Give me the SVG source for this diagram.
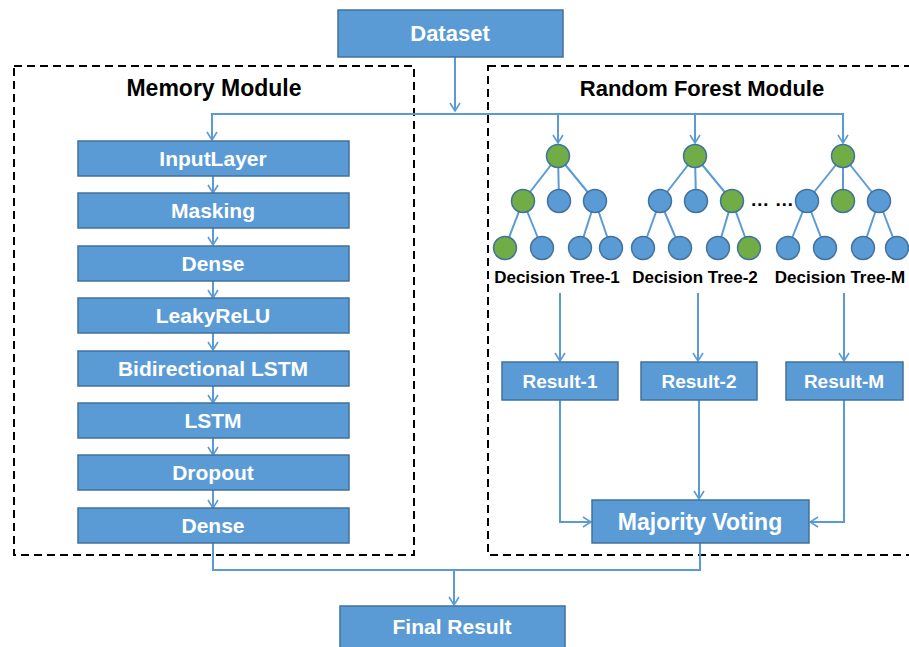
<svg xmlns="http://www.w3.org/2000/svg" width="909" height="647" viewBox="0 0 909 647">
<style>
.box{fill:#5B9BD5;stroke:#41719C;stroke-width:1.5}
.bt{fill:#fff;font-family:"Liberation Sans",Arial,sans-serif;font-weight:bold;text-anchor:middle}
.title{fill:#000;font-family:"Liberation Sans",Arial,sans-serif;font-weight:bold;text-anchor:middle}
.lbl{fill:#000;font-family:"Liberation Sans",Arial,sans-serif;font-weight:bold;text-anchor:middle;font-size:17px}
.dash{fill:none;stroke:#000;stroke-width:2;stroke-dasharray:8,5}
.ln{fill:none;stroke:#5B9BD5;stroke-width:2}
.ar{fill:none;stroke:#5B9BD5;stroke-width:2;marker-end:url(#ah)}
.nb{fill:#5B9BD5;stroke:#41719C;stroke-width:1.5}
.ng{fill:#70AD47;stroke:#41719C;stroke-width:1.5}
</style>
<defs>
<marker id="ah" viewBox="0 0 10 12" refX="9" refY="6" markerWidth="10" markerHeight="12" markerUnits="userSpaceOnUse" orient="auto">
<path d="M1,1 L9,6 L1,11" fill="none" stroke="#5B9BD5" stroke-width="1.6"/>
</marker>
</defs>

<g id="memory-module">
<rect class="dash" x="14" y="66" width="400" height="489"/>
<text class="title" x="214" y="96" font-size="23">Memory Module</text>
</g>
<g id="random-forest-module">
<rect class="dash" x="488" y="66" width="430" height="489"/>
<text class="title" x="702" y="96" font-size="22">Random Forest Module</text>
</g>

<g id="connectors">
<line class="ar" x1="455" y1="57" x2="455" y2="111"/>
<polyline class="ln" points="212,114 843,114"/>
<line class="ar" x1="212" y1="113" x2="212" y2="140"/>
<line class="ar" x1="213" y1="176" x2="213" y2="193"/>
<line class="ar" x1="213" y1="228" x2="213" y2="245"/>
<line class="ar" x1="213" y1="281" x2="213" y2="298"/>
<line class="ar" x1="213" y1="333" x2="213" y2="350"/>
<line class="ar" x1="213" y1="386" x2="213" y2="403"/>
<line class="ar" x1="213" y1="438" x2="213" y2="455"/>
<line class="ar" x1="213" y1="490" x2="213" y2="508"/>
<line class="ar" x1="558" y1="113" x2="558" y2="143"/>
<line class="ar" x1="695" y1="113" x2="695" y2="143"/>
<line class="ar" x1="843" y1="113" x2="843" y2="143"/>
<line class="ar" x1="560" y1="293" x2="560" y2="361"/>
<line class="ar" x1="698" y1="293" x2="698" y2="361"/>
<line class="ar" x1="844" y1="293" x2="844" y2="361"/>
<polyline class="ar" points="560,400 560,522 591,522"/>
<line class="ar" x1="699" y1="400" x2="699" y2="499"/>
<polyline class="ar" points="844,400 844,522 810,522"/>
<polyline class="ln" points="213,543 213,570 700,570 700,543"/>
<line class="ar" x1="454" y1="570" x2="454" y2="605"/>
</g>

<g id="dataset"><rect class="box" x="338" y="10" width="225" height="47"/><text class="bt" x="450" y="41" font-size="22">Dataset</text></g>

<g id="inputlayer"><rect class="box" x="78" y="141" width="271" height="35"/><text class="bt" x="213" y="166" font-size="21">InputLayer</text></g>
<g id="masking"><rect class="box" x="78" y="193" width="271" height="35"/><text class="bt" x="213" y="218" font-size="21">Masking</text></g>
<g id="dense1"><rect class="box" x="78" y="246" width="271" height="35"/><text class="bt" x="213" y="271" font-size="21">Dense</text></g>
<g id="leakyrelu"><rect class="box" x="78" y="298" width="271" height="35"/><text class="bt" x="213" y="323" font-size="21">LeakyReLU</text></g>
<g id="bilstm"><rect class="box" x="78" y="351" width="271" height="35"/><text class="bt" x="213" y="376" font-size="21">Bidirectional LSTM</text></g>
<g id="lstm"><rect class="box" x="78" y="403" width="271" height="35"/><text class="bt" x="213" y="428" font-size="21">LSTM</text></g>
<g id="dropout"><rect class="box" x="78" y="455" width="271" height="35"/><text class="bt" x="213" y="480" font-size="21">Dropout</text></g>
<g id="dense2"><rect class="box" x="78" y="508" width="271" height="35"/><text class="bt" x="213" y="533" font-size="21">Dense</text></g>

<g id="tree1">
<g class="ln">
<line x1="558" y1="156" x2="523" y2="201"/><line x1="558" y1="156" x2="559" y2="201"/><line x1="558" y1="156" x2="595" y2="201"/>
<line x1="523" y1="201" x2="505" y2="248"/><line x1="523" y1="201" x2="542" y2="248"/>
<line x1="595" y1="201" x2="580" y2="248"/><line x1="595" y1="201" x2="611" y2="248"/>
</g>
<circle class="ng" cx="558" cy="156" r="11.5"/>
<circle class="ng" cx="523" cy="201" r="11.5"/><circle class="nb" cx="559" cy="201" r="11.5"/><circle class="nb" cx="595" cy="201" r="11.5"/>
<circle class="ng" cx="505" cy="248" r="11.5"/><circle class="nb" cx="542" cy="248" r="11.5"/><circle class="nb" cx="580" cy="248" r="11.5"/><circle class="nb" cx="611" cy="248" r="11.5"/>
<text class="lbl" x="557" y="283">Decision Tree-1</text>
</g>
<g id="tree2">
<g class="ln">
<line x1="695" y1="156" x2="660" y2="201"/><line x1="695" y1="156" x2="696" y2="201"/><line x1="695" y1="156" x2="732" y2="201"/>
<line x1="660" y1="201" x2="643" y2="248"/><line x1="660" y1="201" x2="680" y2="248"/>
<line x1="732" y1="201" x2="718" y2="248"/><line x1="732" y1="201" x2="749" y2="248"/>
</g>
<circle class="ng" cx="695" cy="156" r="11.5"/>
<circle class="nb" cx="660" cy="201" r="11.5"/><circle class="nb" cx="696" cy="201" r="11.5"/><circle class="ng" cx="732" cy="201" r="11.5"/>
<circle class="nb" cx="643" cy="248" r="11.5"/><circle class="nb" cx="680" cy="248" r="11.5"/><circle class="nb" cx="718" cy="248" r="11.5"/><circle class="ng" cx="749" cy="248" r="11.5"/>
<text class="lbl" x="695" y="283">Decision Tree-2</text>
</g>
<g id="dots"><text x="772" y="206" fill="#000" font-family="Liberation Sans,Arial,sans-serif" font-weight="bold" font-size="19" text-anchor="middle">… …</text></g>
<g id="treeM">
<g class="ln">
<line x1="843" y1="156" x2="807" y2="201"/><line x1="843" y1="156" x2="843" y2="201"/><line x1="843" y1="156" x2="879" y2="201"/>
<line x1="807" y1="201" x2="788" y2="248"/><line x1="807" y1="201" x2="825" y2="248"/>
<line x1="879" y1="201" x2="863" y2="248"/><line x1="879" y1="201" x2="897" y2="248"/>
</g>
<circle class="ng" cx="843" cy="156" r="11.5"/>
<circle class="nb" cx="807" cy="201" r="11.5"/><circle class="ng" cx="843" cy="201" r="11.5"/><circle class="nb" cx="879" cy="201" r="11.5"/>
<circle class="nb" cx="788" cy="248" r="11.5"/><circle class="nb" cx="825" cy="248" r="11.5"/><circle class="nb" cx="863" cy="248" r="11.5"/><circle class="nb" cx="897" cy="248" r="11.5"/>
<text class="lbl" x="840" y="283">Decision Tree-M</text>
</g>

<g id="result1"><rect class="box" x="502" y="362" width="116" height="38"/><text class="bt" x="560" y="388" font-size="19">Result-1</text></g>
<g id="result2"><rect class="box" x="641" y="362" width="116" height="38"/><text class="bt" x="699" y="388" font-size="19">Result-2</text></g>
<g id="resultM"><rect class="box" x="786" y="362" width="117" height="38"/><text class="bt" x="844" y="388" font-size="19">Result-M</text></g>
<g id="majority-voting"><rect class="box" x="592" y="500" width="217" height="43"/><text class="bt" x="700" y="530" font-size="23">Majority Voting</text></g>
<g id="final-result"><rect class="box" x="340" y="606" width="225" height="47"/><text class="bt" x="452" y="634" font-size="21">Final Result</text></g>
</svg>
